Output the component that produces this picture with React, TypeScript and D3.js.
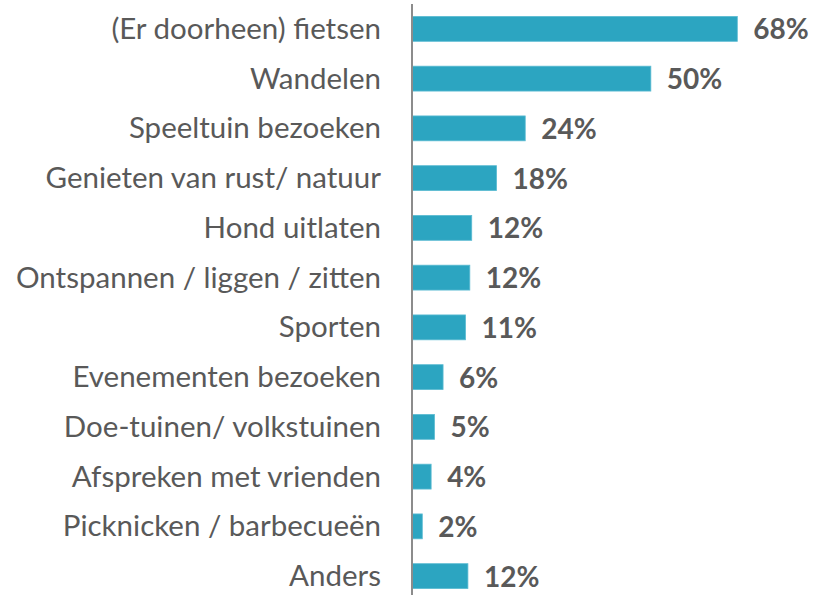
import React from "react";
import * as d3 from "d3";

const categories = [
  "(Er doorheen) fietsen",
  "Wandelen",
  "Speeltuin bezoeken",
  "Genieten van rust/ natuur",
  "Hond uitlaten",
  "Ontspannen / liggen / zitten",
  "Sporten",
  "Evenementen bezoeken",
  "Doe-tuinen/ volkstuinen",
  "Afspreken met vrienden",
  "Picknicken / barbecueën",
  "Anders",
];
const values = [68, 49.9, 23.6, 17.6, 12.4, 12.0, 11.1, 6.4, 4.6, 3.9, 2.05, 11.6];
const valueLabels = ["68%", "50%", "24%", "18%", "12%", "12%", "11%", "6%", "5%", "4%", "2%", "12%"];

const W = 827;
const H = 595;
const X0 = 412.5;

export default function App() {
  const x = d3.scaleLinear().domain([0, 68]).range([X0, 737.3]);
  const y = d3
    .scaleBand<string>()
    .domain(categories)
    .range([4, 601])
    .paddingInner(0.5)
    .paddingOuter(0.25);
  const bw = y.bandwidth();
  return (
    <svg
      width={W}
      height={H}
      style={{ position: "absolute", left: 0, top: 0, background: "#fff" }}
      fontFamily="Lato, 'Open Sans', sans-serif"
    >
      {categories.map((c, i) => {
        const cy = (y(c) as number) + bw / 2;
        return (
          <g key={c}>
            <rect
              x={X0}
              y={y(c)}
              width={x(values[i]) - X0}
              height={bw}
              fill="#2CA5C1"
              stroke="#5BBBD2"
              strokeWidth={0.8}
            />
            <text x={381} y={cy + 10} textAnchor="end" fontSize={29.5} fill="#595959">
              {c}
            </text>
            <text
              x={x(values[i]) + 16}
              y={cy + 10.5}
              fontSize={28}
              fontWeight="bold"
              fill="#595959"
            >
              {valueLabels[i]}
            </text>
          </g>
        );
      })}
      <line x1={412} x2={412} y1={4} y2={H} stroke="#8C8C8C" strokeWidth={2} />
    </svg>
  );
}
